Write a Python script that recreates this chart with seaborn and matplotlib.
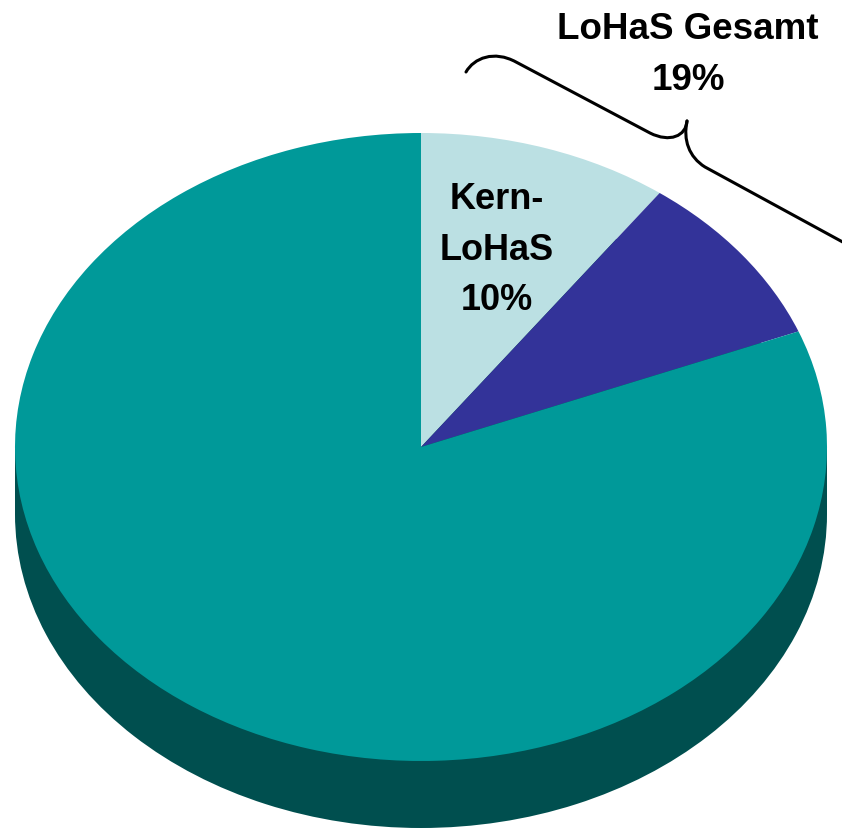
import numpy as np
import matplotlib
matplotlib.use("Agg")
import matplotlib.pyplot as plt
import seaborn as sns
from matplotlib.path import Path
from matplotlib.patches import PathPatch

# data
segments = ["Kern-LoHaS", "LoHaS (weitere)", "Rest"]
shares = [10, 9, 81]
seg_colors = ["#BBE0E3", "#333399", "#009999"]
side_color = "#004F4F"
kern_label = "Kern-\nLoHaS\n10%"
total_title = "LoHaS Gesamt"
total_value = "19%"

sns.set_theme(style="white")
plt.rcParams["font.family"] = ["Liberation Sans", "DejaVu Sans"]

W, H = 842, 830
fig = plt.figure(figsize=(W / 100, H / 100), dpi=100)
ax = fig.add_axes([0, 0, 1, 1])

# pixel geometry of the tilted pie
cx, cy, rx, ry = 421, 447, 406, 314
depth = 67 / ry

def px(x, y):
    return ((x - cx) / rx, (cy - y) / ry)

# dark side (extruded base)
ax.pie([1], colors=[side_color], radius=1, center=(0, -depth),
       startangle=90, wedgeprops=dict(linewidth=0))
xs = np.linspace(-1, 1, 400)
ax.fill_between(xs, -depth, 0, color=side_color, linewidth=0)

# top face
ax.pie(shares, colors=seg_colors, radius=1, center=(0, 0), startangle=90,
       counterclock=False, wedgeprops=dict(linewidth=0))

ax.set_aspect("auto")
ax.set_xlim(px(0, 0)[0], px(W, 0)[0])
ax.set_ylim(px(0, H)[1], px(0, 0)[1])
ax.axis("off")

# label inside Kern-LoHaS slice
lx, ly = px(497, 250)
ax.text(lx, ly, kern_label, ha="center", va="center", fontsize=26,
        fontweight="bold", linespacing=1.58, color="black")

# total label above the brace
tx, ty = px(688, 29)
ax.text(tx, ty, total_title, ha="center", va="center", fontsize=26.5,
        fontweight="bold", color="black")
tx, ty = px(688, 80)
ax.text(tx, ty, total_value, ha="center", va="center", fontsize=26.5,
        fontweight="bold", color="black")

# curly brace over the 19%
left = [(466, 72), (474, 58), (494, 50), (516, 62), (650, 133),
        (670, 143), (686, 136), (687, 121)]
right = [(687, 121), (683, 140), (689, 157), (705, 167), (850, 246)]
codes_l = [Path.MOVETO, Path.CURVE4, Path.CURVE4, Path.CURVE4, Path.LINETO,
           Path.CURVE4, Path.CURVE4, Path.CURVE4]
codes_r = [Path.MOVETO, Path.CURVE4, Path.CURVE4, Path.CURVE4, Path.LINETO]
for pts, cds in [(left, codes_l), (right, codes_r)]:
    p = Path([px(*q) for q in pts], cds)
    ax.add_patch(PathPatch(p, facecolor="none", edgecolor="black",
                           linewidth=2.2, capstyle="round", joinstyle="round"))

fig.savefig("out.png", dpi=100)
